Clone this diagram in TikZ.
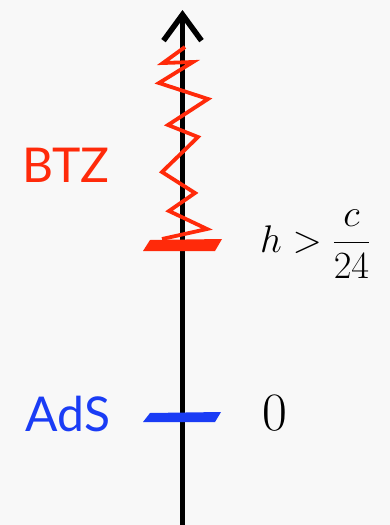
\RequirePackage{fix-cm}
\documentclass[tikz,border=0pt]{standalone}
\usepackage{amsmath}
\usepackage{fontspec}
\usetikzlibrary{arrows.meta}
\newfontfamily\labelfont{Lato}
\definecolor{page-bg}{HTML}{F8F8F8}
\definecolor{btz-red}{HTML}{FF2A0A}
\definecolor{ads-blue}{HTML}{1A3CF5}

\begin{document}
\begin{tikzpicture}[x=1pt, y=-1pt,
        every node/.style={inner sep=0pt}]
      \fill[page-bg] (0,0) rectangle (390,525);
      \useasboundingbox (0,0) rectangle (390,525);
      % energy axis
      \coordinate (base) at (182.5,525);
      \coordinate (top) at (182.5,10);
      \draw[line width=5.5pt, -{Straight Barb[length=26pt, width=38pt]}]
        (base) -- (top);
      % BTZ threshold and the tower above it
      \fill[btz-red] (150,240) -- (222,239) -- (215,251) -- (143,251) -- cycle;
      \draw[btz-red, line width=3.8pt, line join=miter]
        (162,239) -- (207,229) -- (169,211) -- (195,193) -- (162,172)
        -- (198,137) -- (168,125) -- (208,99) -- (159,83) -- (193,62)
        -- (163,63) -- (185,47);
      % AdS vacuum
      \fill[ads-blue] (150,413) -- (221,412) -- (215,422) -- (143,422) -- cycle;
      \node[text=btz-red, font=\labelfont\fontsize{48}{50}\selectfont]
        (BTZ) at (66,165) {BTZ};
      \node[text=ads-blue, font=\labelfont\fontsize{48}{50}\selectfont]
        (AdS) at (68,414) {AdS};
      \node[anchor=west, font=\fontsize{38.5}{42}\selectfont]
        (gap) at (260,244) {$\displaystyle h>\frac{c}{24}$};
      \node[font=\fontsize{54}{60}\selectfont]
        (zero) at (275,413) {$0$};
    \end{tikzpicture}
\end{document}
